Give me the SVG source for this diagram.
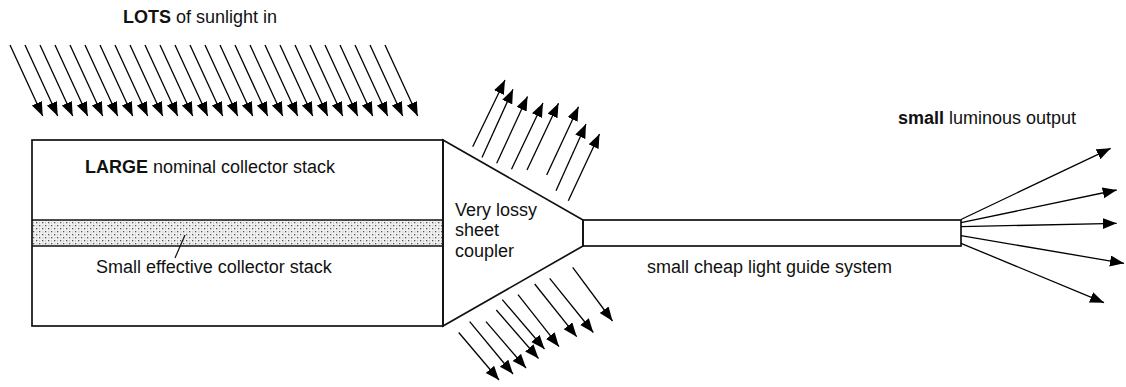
<svg xmlns="http://www.w3.org/2000/svg" width="1126" height="387" viewBox="0 0 1126 387">
  <defs>
    <style>
      .lbl { font-family: "Liberation Sans", Arial, sans-serif; font-size: 18px; fill: #111; }
      .b { font-weight: bold; }
      .edge { fill: none; stroke: #111; stroke-width: 1.7; }
      .ray { fill: none; stroke: #000; stroke-width: 1.3; marker-end: url(#head); }
    </style>
    <marker id="head" markerUnits="userSpaceOnUse" markerWidth="15" markerHeight="12" refX="14" refY="5.5" orient="auto">
      <path d="M0,0 L14,5.5 L0,11 z" fill="#000"/>
    </marker>
    <pattern id="stipple" width="6" height="6" patternUnits="userSpaceOnUse">
      <rect width="6" height="6" fill="#f0f0f0"/>
      <rect x="0" y="0" width="1.3" height="1.3" fill="#555"/>
      <rect x="3" y="3" width="1.3" height="1.3" fill="#555"/>
      <rect x="3" y="0.5" width="0.9" height="0.9" fill="#999"/>
      <rect x="0.5" y="3.5" width="0.9" height="0.9" fill="#999"/>
    </pattern>
  </defs>

  <rect width="1126" height="387" fill="#fff"/>

  <!-- collector stack with the thin effective layer -->
  <g id="collector">
    <rect x="32" y="220" width="411" height="26" fill="url(#stipple)"/>
    <rect class="edge" x="32" y="140" width="411" height="186"/>
    <line class="edge" x1="32" y1="220" x2="443" y2="220"/>
    <line class="edge" x1="32" y1="246" x2="443" y2="246"/>
    <line x1="185" y1="235" x2="175" y2="258" stroke="#111" stroke-width="1.2"/>
    <text class="lbl" x="85" y="173"><tspan class="b">LARGE</tspan> nominal collector stack</text>
    <text class="lbl" x="96" y="273">Small effective collector stack</text>
  </g>

  <!-- tapered coupler -->
  <g id="coupler">
    <polygon class="edge" points="443,140 583,220 583,246 443,326"/>
    <text class="lbl" x="455" y="215.5">Very lossy</text>
    <text class="lbl" x="455" y="236">sheet</text>
    <text class="lbl" x="455" y="256.5">coupler</text>
  </g>

  <!-- light guide -->
  <g id="guide">
    <rect class="edge" x="583" y="220" width="378" height="26"/>
    <text class="lbl" x="647" y="273">small cheap light guide system</text>
  </g>

  <g id="titles">
    <text class="lbl" x="123" y="23"><tspan class="b">LOTS</tspan> of sunlight in</text>
    <text class="lbl" x="898" y="124"><tspan class="b">small</tspan> luminous output</text>
  </g>

  <g id="connectors">
    <!-- incoming sunlight -->
    <g id="sunlight">
      <line class="ray" x1="10" y1="45" x2="42.7" y2="116"/>
      <line class="ray" x1="25" y1="45" x2="57.7" y2="116"/>
      <line class="ray" x1="40" y1="45" x2="72.7" y2="116"/>
      <line class="ray" x1="55" y1="45" x2="87.7" y2="116"/>
      <line class="ray" x1="70" y1="45" x2="102.7" y2="116"/>
      <line class="ray" x1="85" y1="45" x2="117.7" y2="116"/>
      <line class="ray" x1="100" y1="45" x2="132.7" y2="116"/>
      <line class="ray" x1="115" y1="45" x2="147.7" y2="116"/>
      <line class="ray" x1="130" y1="45" x2="162.7" y2="116"/>
      <line class="ray" x1="145" y1="45" x2="177.7" y2="116"/>
      <line class="ray" x1="160" y1="45" x2="192.7" y2="116"/>
      <line class="ray" x1="175" y1="45" x2="207.7" y2="116"/>
      <line class="ray" x1="190" y1="45" x2="222.7" y2="116"/>
      <line class="ray" x1="205" y1="45" x2="237.7" y2="116"/>
      <line class="ray" x1="220" y1="45" x2="252.7" y2="116"/>
      <line class="ray" x1="235" y1="45" x2="267.7" y2="116"/>
      <line class="ray" x1="250" y1="45" x2="282.7" y2="116"/>
      <line class="ray" x1="265" y1="45" x2="297.7" y2="116"/>
      <line class="ray" x1="280" y1="45" x2="312.7" y2="116"/>
      <line class="ray" x1="295" y1="45" x2="327.7" y2="116"/>
      <line class="ray" x1="310" y1="45" x2="342.7" y2="116"/>
      <line class="ray" x1="325" y1="45" x2="357.7" y2="116"/>
      <line class="ray" x1="340" y1="45" x2="372.7" y2="116"/>
      <line class="ray" x1="355" y1="45" x2="387.7" y2="116"/>
      <line class="ray" x1="370" y1="45" x2="402.7" y2="116"/>
      <line class="ray" x1="385" y1="45" x2="417.7" y2="116"/>
    </g>

    <!-- light escaping through the upper face of the coupler -->
    <g id="loss-upper">
      <line class="ray" x1="472.7" y1="146.7" x2="505" y2="80"/>
      <line class="ray" x1="482" y1="157.5" x2="513" y2="89.3"/>
      <line class="ray" x1="496.7" y1="163.3" x2="527.5" y2="96.5"/>
      <line class="ray" x1="511.5" y1="169.3" x2="543" y2="103"/>
      <line class="ray" x1="527" y1="170" x2="558.5" y2="103.3"/>
      <line class="ray" x1="546.7" y1="175" x2="578.5" y2="106.7"/>
      <line class="ray" x1="556" y1="190.7" x2="586" y2="124"/>
      <line class="ray" x1="568.3" y1="200.7" x2="599.5" y2="134"/>
    </g>

    <!-- light escaping through the lower face of the coupler -->
    <g id="loss-lower">
      <line class="ray" x1="458.7" y1="332.5" x2="499" y2="380"/>
      <line class="ray" x1="469.7" y1="321.7" x2="513" y2="374"/>
      <line class="ray" x1="486" y1="321.7" x2="526" y2="368"/>
      <line class="ray" x1="496.3" y1="310" x2="538.5" y2="358.5"/>
      <line class="ray" x1="502.3" y1="299.7" x2="544.5" y2="349"/>
      <line class="ray" x1="518" y1="294.7" x2="559" y2="346.7"/>
      <line class="ray" x1="534.7" y1="284" x2="576.7" y2="336.7"/>
      <line class="ray" x1="549.7" y1="278.3" x2="593.3" y2="332.5"/>
      <line class="ray" x1="572.7" y1="267.3" x2="612.5" y2="321"/>
    </g>

    <!-- fan of output light -->
    <g id="output">
      <line class="ray" x1="961" y1="219.5" x2="1110.7" y2="148.3"/>
      <line class="ray" x1="961" y1="222.7" x2="1116.7" y2="190"/>
      <line class="ray" x1="961" y1="226.7" x2="1116.7" y2="223.3"/>
      <line class="ray" x1="961" y1="235.7" x2="1124" y2="263.3"/>
      <line class="ray" x1="961" y1="243.3" x2="1104" y2="302.7"/>
    </g>
  </g>
</svg>
